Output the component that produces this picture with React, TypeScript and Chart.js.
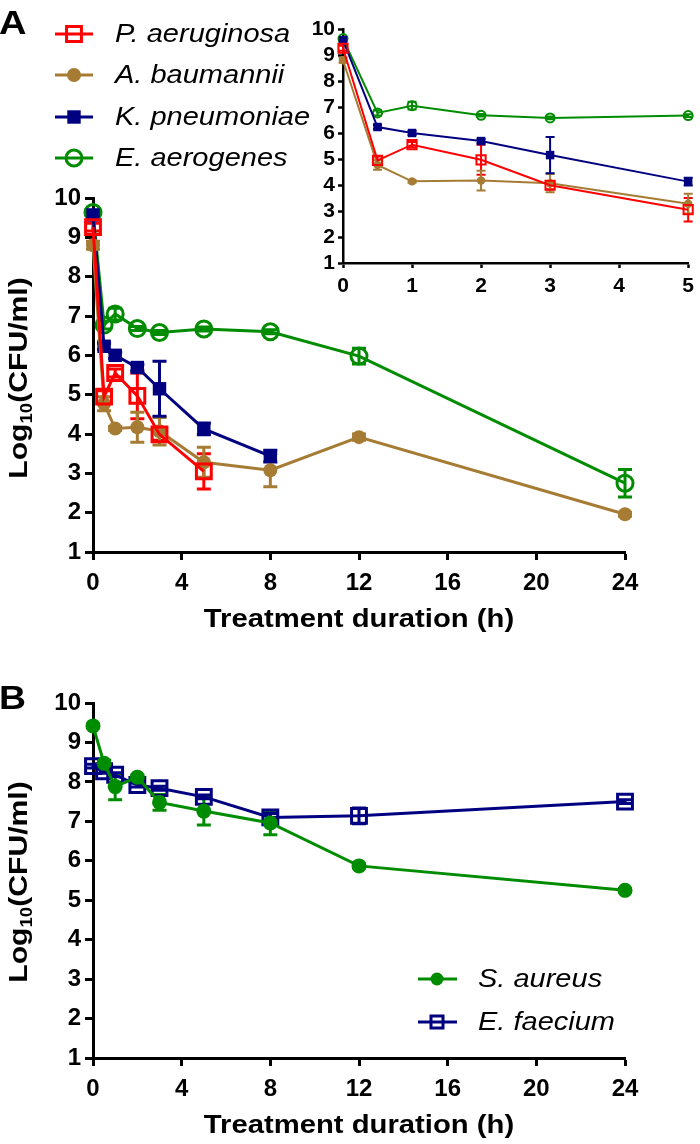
import React, { useEffect, useRef } from "react";
import { Chart, registerables } from "chart.js";

Chart.register(...registerables);

const FONT = '"Liberation Sans", Arial, Helvetica, sans-serif';

// ---------- Data: panel A ----------
const timesA = [0, 0.5, 1, 2, 3, 5, 8, 12, 24];
const aeruginosaY = [9.26, 4.95, 5.55, 4.97, 3.99, 3.05];
const aeruginosaErr = [0.1, 0.15, 0.1, 0.58, 0.15, 0.45];
const baumanniiY = [8.8, 4.77, 4.14, 4.17, 4.07, 3.28, 3.08, 3.92, 1.96];
const baumanniiErr = [0.1, 0.18, 0.05, 0.38, 0.35, 0.38, 0.42, 0.08, 0.05];
const pneumoniaeY = [9.57, 6.23, 6.0, 5.69, 5.15, 4.13, 3.44];
const pneumoniaeErr = [0.05, 0.08, 0.08, 0.08, 0.7, 0.15, 0.15];
const aerogenesY = [9.63, 6.77, 7.05, 6.68, 6.58, 6.67, 6.6, 5.98, 2.75];
const aerogenesErr = [0.05, 0.1, 0.15, 0.05, 0.05, 0.05, 0.05, 0.2, 0.35];

// ---------- Data: panel B ----------
const timesB = [0, 0.5, 1, 2, 3, 5, 8, 12, 24];
const aureusY = [9.42, 8.47, 7.88, 8.12, 7.48, 7.26, 6.96, 5.87, 5.25];
const aureusErr = [0.05, 0.08, 0.33, 0.05, 0.2, 0.35, 0.3, 0.05, 0.05];
const faeciumY = [8.4, 8.27, 8.18, 7.92, 7.84, 7.62, 7.1, 7.14, 7.5];
const faeciumErr = [0.05, 0.05, 0.05, 0.05, 0.05, 0.05, 0.1, 0.2, 0.05];

// ---------- Ticks / labels ----------
const yTicks = [1, 2, 3, 4, 5, 6, 7, 8, 9, 10];
const xTicksMain = [0, 4, 8, 12, 16, 20, 24];
const xTicksInset = [0, 1, 2, 3, 4, 5];
const xTitle = "Treatment duration (h)";
const namesA = ["P. aeruginosa", "A. baumannii", "K. pneumoniae", "E. aerogenes"];
const namesB = ["S. aureus", "E. faecium"];

const RED = "#FF0000";
const BROWN = "#A67C34";
const NAVY = "#000080";
const GREEN = "#008C00";

type Style = "rect" | "circle";
interface Series {
  label: string;
  y: number[];
  err: number[];
  color: string;
  style: Style;
  open: boolean;
  r: number;
  rInset: number;
}

const seriesA: Series[] = [
  { label: namesA[0], y: aeruginosaY, err: aeruginosaErr, color: RED, style: "rect", open: true, r: 10.5, rInset: 6.5 },
  { label: namesA[1], y: baumanniiY, err: baumanniiErr, color: BROWN, style: "circle", open: false, r: 7, rInset: 4.2 },
  { label: namesA[2], y: pneumoniaeY, err: pneumoniaeErr, color: NAVY, style: "rect", open: false, r: 9.5, rInset: 6 },
  { label: namesA[3], y: aerogenesY, err: aerogenesErr, color: GREEN, style: "circle", open: true, r: 8, rInset: 4.5 },
];
const seriesB: Series[] = [
  { label: namesB[0], y: aureusY, err: aureusErr, color: GREEN, style: "circle", open: false, r: 7.5, rInset: 4 },
  { label: namesB[1], y: faeciumY, err: faeciumErr, color: NAVY, style: "rect", open: true, r: 10.5, rInset: 6 },
];

function drawMarker(ctx: CanvasRenderingContext2D, s: Series, x: number, y: number, r: number, lw: number) {
  ctx.save();
  ctx.beginPath();
  if (s.style === "circle") {
    ctx.arc(x, y, r, 0, Math.PI * 2);
  } else {
    const h = r * Math.SQRT1_2;
    ctx.rect(x - h, y - h, 2 * h, 2 * h);
  }
  if (s.open) {
    ctx.strokeStyle = s.color;
    ctx.lineWidth = lw;
    ctx.stroke();
  } else {
    ctx.fillStyle = s.color;
    ctx.fill();
  }
  ctx.restore();
}

function drawText(
  ctx: CanvasRenderingContext2D,
  text: string,
  x: number,
  y: number,
  font: string,
  align: CanvasTextAlign,
  stretch = 1.16
) {
  ctx.save();
  ctx.font = font;
  ctx.fillStyle = "#000";
  ctx.textBaseline = "middle";
  ctx.textAlign = align;
  ctx.translate(x, y);
  ctx.scale(stretch, 1);
  ctx.fillText(text, 0, 0);
  ctx.restore();
}

function drawYTitle(ctx: CanvasRenderingContext2D, cx: number, cy: number) {
  const size = 26;
  const stretch = 1.16;
  const big = `bold ${size}px ${FONT}`;
  const small = `bold ${Math.round(size * 0.62)}px ${FONT}`;
  ctx.save();
  ctx.fillStyle = "#000";
  ctx.textBaseline = "alphabetic";
  ctx.textAlign = "left";
  ctx.font = big;
  const w1 = ctx.measureText("Log").width;
  const w3 = ctx.measureText("(CFU/ml)").width;
  ctx.font = small;
  const w2 = ctx.measureText("10").width;
  ctx.translate(cx, cy);
  ctx.rotate(-Math.PI / 2);
  ctx.scale(stretch, 1);
  let x = -(w1 + w2 + w3) / 2;
  const by = size * 0.27;
  ctx.font = big;
  ctx.fillText("Log", x, by);
  x += w1;
  ctx.font = small;
  ctx.fillText("10", x, by + size * 0.18);
  x += w2;
  ctx.font = big;
  ctx.fillText("(CFU/ml)", x, by);
  ctx.restore();
}

function errorBarPlugin(series: Series[], capHalf: number, lw: number) {
  return {
    id: "errorBars",
    beforeDatasetsDraw(chart: any) {
      const ctx: CanvasRenderingContext2D = chart.ctx;
      const xs = chart.scales.x;
      const ys = chart.scales.y;
      chart.data.datasets.forEach((ds: any, i: number) => {
        const s = series[i];
        ctx.save();
        ctx.strokeStyle = s.color;
        ctx.lineWidth = lw;
        ds.data.forEach((p: { x: number; y: number }, j: number) => {
          const e = s.err[j];
          if (!e) return;
          const px = xs.getPixelForValue(p.x);
          const yTop = ys.getPixelForValue(p.y + e);
          const yBot = ys.getPixelForValue(p.y - e);
          ctx.beginPath();
          ctx.moveTo(px, yTop);
          ctx.lineTo(px, yBot);
          ctx.moveTo(px - capHalf, yTop);
          ctx.lineTo(px + capHalf, yTop);
          ctx.moveTo(px - capHalf, yBot);
          ctx.lineTo(px + capHalf, yBot);
          ctx.stroke();
        });
        ctx.restore();
      });
    },
  };
}

interface ChartOpts {
  series: Series[];
  times: number[];
  xMax: number;
  xTicks: number[];
  inset: boolean;
  padTop: number;
  padRight: number;
  yWidth: number;
  xHeight: number;
  tickFont: number;
  tickLen: number;
  borderW: number;
  yPad: number;
  xPad: number;
  lineW: number;
  capHalf: number;
  extra?: any;
}

function buildChart(canvas: HTMLCanvasElement, o: ChartOpts) {
  const datasets = o.series.map((s) => {
    const pts = s.y
      .map((v, j) => ({ x: o.times[j], y: v }))
      .filter((p) => p.x <= o.xMax);
    return {
      label: s.label,
      data: pts,
      borderColor: s.color,
      backgroundColor: s.color,
      borderWidth: o.lineW,
      pointStyle: s.style,
      pointRadius: o.inset ? s.rInset : s.r,
      pointBorderWidth: s.open ? o.lineW : 0,
      pointBorderColor: s.color,
      pointBackgroundColor: s.open ? "rgba(0,0,0,0)" : s.color,
      fill: false,
      tension: 0,
      clip: false as any,
    };
  });
  const axisGrid = {
    display: true,
    drawOnChartArea: false,
    drawTicks: true,
    tickLength: o.tickLen,
    tickWidth: o.borderW,
    tickColor: "#000",
    color: "#000",
  };
  const tickFont = { family: FONT, size: o.tickFont, weight: "bold" as const };
  const plugins: any[] = [errorBarPlugin(o.series, o.capHalf, o.lineW)];
  if (o.extra) plugins.push(o.extra);
  return new Chart(canvas, {
    type: "line",
    data: { datasets },
    options: {
      responsive: false,
      animation: false,
      events: [],
      layout: { padding: { left: 0, top: o.padTop, right: o.padRight, bottom: 0 } },
      plugins: { legend: { display: false }, tooltip: { enabled: false }, title: { display: false } },
      scales: {
        x: {
          type: "linear",
          min: 0,
          max: o.xMax,
          afterBuildTicks: (s: any) => {
            s.ticks = o.xTicks.map((v) => ({ value: v }));
          },
          afterFit: (s: any) => {
            s.height = o.xHeight;
          },
          grid: axisGrid,
          border: { display: true, color: "#000", width: o.borderW },
          ticks: {
            color: "#000",
            font: tickFont,
            padding: o.xPad,
            maxRotation: 0,
            autoSkip: false,
            callback: (v: any) => String(v),
          },
        },
        y: {
          type: "linear",
          min: 1,
          max: 10,
          afterBuildTicks: (s: any) => {
            s.ticks = yTicks.map((v) => ({ value: v }));
          },
          afterFit: (s: any) => {
            s.width = o.yWidth;
          },
          grid: axisGrid,
          border: { display: true, color: "#000", width: o.borderW },
          ticks: {
            color: "#000",
            font: tickFont,
            padding: o.yPad,
            autoSkip: false,
            callback: (v: any) => String(v),
          },
        },
      },
    } as any,
    plugins,
  });
}

const annotA = {
  id: "annotA",
  afterDraw(chart: any) {
    const ctx: CanvasRenderingContext2D = chart.ctx;
    drawText(ctx, "A", -1, 25, `bold 34px ${FONT}`, "left", 1.12);
    const rows = [34, 75, 117, 158];
    seriesA.forEach((s, i) => {
      const y = rows[i];
      ctx.save();
      ctx.strokeStyle = s.color;
      ctx.lineWidth = 3;
      ctx.beginPath();
      ctx.moveTo(55, y);
      ctx.lineTo(93, y);
      ctx.stroke();
      ctx.restore();
      drawMarker(ctx, s, 74, y, s.r, 3);
      drawText(ctx, s.label, 115, y + 1, `italic 25px ${FONT}`, "left", 1.16);
    });
    drawYTitle(ctx, 20, 378);
    drawText(ctx, xTitle, 359, 620, `bold 25px ${FONT}`, "center", 1.17);
  },
};

const annotB = {
  id: "annotB",
  afterDraw(chart: any) {
    const ctx: CanvasRenderingContext2D = chart.ctx;
    drawText(ctx, "B", -1, 60, `bold 34px ${FONT}`, "left", 1.1);
    const rows = [339, 382];
    seriesB.forEach((s, i) => {
      const y = rows[i];
      ctx.save();
      ctx.strokeStyle = s.color;
      ctx.lineWidth = 3;
      ctx.beginPath();
      ctx.moveTo(418, y);
      ctx.lineTo(457, y);
      ctx.stroke();
      ctx.restore();
      drawMarker(ctx, s, 437, y, s.open ? 8.5 : 6.5, 3);
      drawText(ctx, s.label, 478, y + 1, `italic 25px ${FONT}`, "left", 1.16);
    });
    drawYTitle(ctx, 20, 242);
    drawText(ctx, xTitle, 359, 486, `bold 25px ${FONT}`, "center", 1.17);
  },
};

export default function App() {
  const refA = useRef<HTMLCanvasElement>(null);
  const refInset = useRef<HTMLCanvasElement>(null);
  const refB = useRef<HTMLCanvasElement>(null);

  useEffect(() => {
    const charts: Chart[] = [];
    if (refA.current) {
      charts.push(
        buildChart(refA.current, {
          series: seriesA,
          times: timesA,
          xMax: 24,
          xTicks: xTicksMain,
          inset: false,
          padTop: 198,
          padRight: 75,
          yWidth: 93,
          xHeight: 88,
          tickFont: 24,
          tickLen: 8,
          borderW: 3,
          yPad: 4,
          xPad: 9,
          lineW: 3,
          capHalf: 7,
          extra: annotA,
        })
      );
    }
    if (refInset.current) {
      charts.push(
        buildChart(refInset.current, {
          series: seriesA,
          times: timesA,
          xMax: 5,
          xTicks: xTicksInset,
          inset: true,
          padTop: 29,
          padRight: 6,
          yWidth: 53,
          xHeight: 57,
          tickFont: 21,
          tickLen: 5,
          borderW: 2.5,
          yPad: 3,
          xPad: 6,
          lineW: 2,
          capHalf: 4.5,
        })
      );
    }
    if (refB.current) {
      charts.push(
        buildChart(refB.current, {
          series: seriesB,
          times: timesB,
          xMax: 24,
          xTicks: xTicksMain,
          inset: false,
          padTop: 63,
          padRight: 75,
          yWidth: 93,
          xHeight: 86,
          tickFont: 24,
          tickLen: 8,
          borderW: 3,
          yPad: 4,
          xPad: 9,
          lineW: 3,
          capHalf: 7,
          extra: annotB,
        })
      );
    }
    return () => charts.forEach((c) => c.destroy());
  }, []);

  return (
    <div style={{ position: "absolute", left: 0, top: 0, width: 700, height: 1144, background: "#fff", overflow: "hidden" }}>
      <canvas ref={refA} width={700} height={640} style={{ position: "absolute", left: 0, top: 0 }} />
      <canvas ref={refInset} width={410} height={320} style={{ position: "absolute", left: 290, top: 0 }} />
      <canvas ref={refB} width={700} height={504} style={{ position: "absolute", left: 0, top: 640 }} />
    </div>
  );
}
